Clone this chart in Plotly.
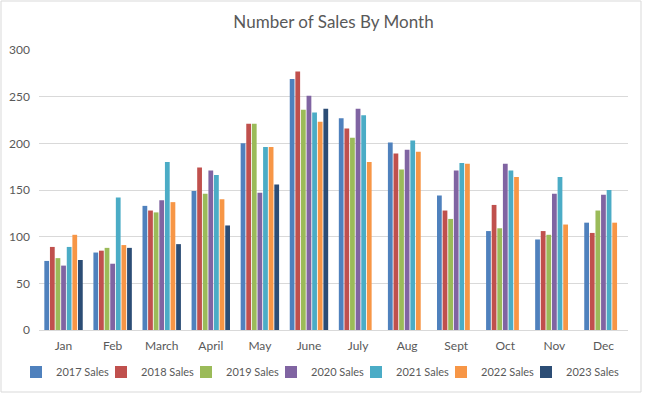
import plotly.graph_objects as go

months = ["Jan", "Feb", "March", "April", "May", "June", "July", "Aug", "Sept", "Oct", "Nov", "Dec"]
sales_2017 = [74, 83, 133, 149, 200, 269, 227, 201, 144, 106, 97, 115]
sales_2018 = [89, 85, 128, 174, 221, 277, 216, 189, 128, 134, 106, 104]
sales_2019 = [77, 88, 126, 146, 221, 236, 206, 172, 119, 109, 102, 128]
sales_2020 = [69, 71, 139, 171, 147, 251, 237, 193, 171, 178, 146, 145]
sales_2021 = [89, 142, 180, 166, 196, 233, 230, 203, 179, 171, 164, 150]
sales_2022 = [102, 91, 137, 140, 196, 223, 180, 191, 178, 164, 113, 115]
sales_2023 = [75, 88, 92, 112, 156, 237, None, None, None, None, None, None]
series_names = ["2017 Sales", "2018 Sales", "2019 Sales", "2020 Sales", "2021 Sales", "2022 Sales", "2023 Sales"]
y_ticks = [0, 50, 100, 150, 200, 250, 300]

series = [sales_2017, sales_2018, sales_2019, sales_2020, sales_2021, sales_2022, sales_2023]
colors = ["#4F81BD", "#C0504D", "#9BBB59", "#8064A2", "#4BACC6", "#F79646", "#2C4D75"]

W, H = 646, 397
ml, mr, mt, mb = 39, 18, 50, 67
pw, ph = W - ml - mr, H - mt - mb

def px_x(p):
    return (p - ml) / pw

def px_y(p):
    return (H - mb - p) / ph

fig = go.Figure()
legend_layouts = {}
legend_pitch = 85
legend_left0 = 16
for i, (name, vals, col) in enumerate(zip(series_names, series, colors)):
    key = "legend" if i == 0 else f"legend{i + 1}"
    fig.add_trace(go.Bar(x=months, y=vals, name=name, legend=key,
                         marker=dict(color=col, line=dict(width=0))))
    legend_layouts[key] = dict(
        orientation="h", xref="container", yref="container",
        x=(legend_left0 + legend_pitch * i) / W, xanchor="left",
        y=1 - 372 / H, yanchor="middle",
        font=dict(size=11, color="#595959"), itemwidth=30,
        bgcolor="rgba(0,0,0,0)",
    )

fig.update_layout(
    width=W, height=H,
    margin=dict(l=ml, r=mr, t=mt, b=mb, pad=0, autoexpand=False),
    paper_bgcolor="white", plot_bgcolor="white",
    font=dict(family="Lato, Open Sans, sans-serif", color="#595959", size=12),
    title=dict(text="Number of Sales By Month", x=0.5, xref="paper", xanchor="center",
               y=1 - 22 / H, yref="container", yanchor="middle", automargin=False,
               font=dict(size=17, color="#595959")),
    barmode="group", bargap=0.2, bargroupgap=0.15,
    showlegend=True,
    xaxis=dict(showgrid=False, showline=True, linecolor="#D9D9D9", linewidth=1,
               ticks="", tickfont=dict(size=12, color="#595959"), ticklabelstandoff=5,
               automargin=False, fixedrange=True),
    yaxis=dict(range=[0, 300], tickvals=y_ticks, showgrid=True, gridcolor="#D9D9D9",
               gridwidth=1, zeroline=False, showline=False, ticks="", automargin=False,
               tickfont=dict(size=12, color="#595959"), ticklabelstandoff=8, fixedrange=True),
    shapes=[dict(type="rect", xref="paper", yref="paper",
                 x0=px_x(1), x1=px_x(641), y0=px_y(392), y1=px_y(1),
                 line=dict(color="#D9D9D9", width=1), fillcolor="rgba(0,0,0,0)", layer="below")],
    **legend_layouts,
)

fig.write_html("out.html", config={"displayModeBar": False},
               post_script="document.body.style.margin='0';document.body.style.padding='0';")
